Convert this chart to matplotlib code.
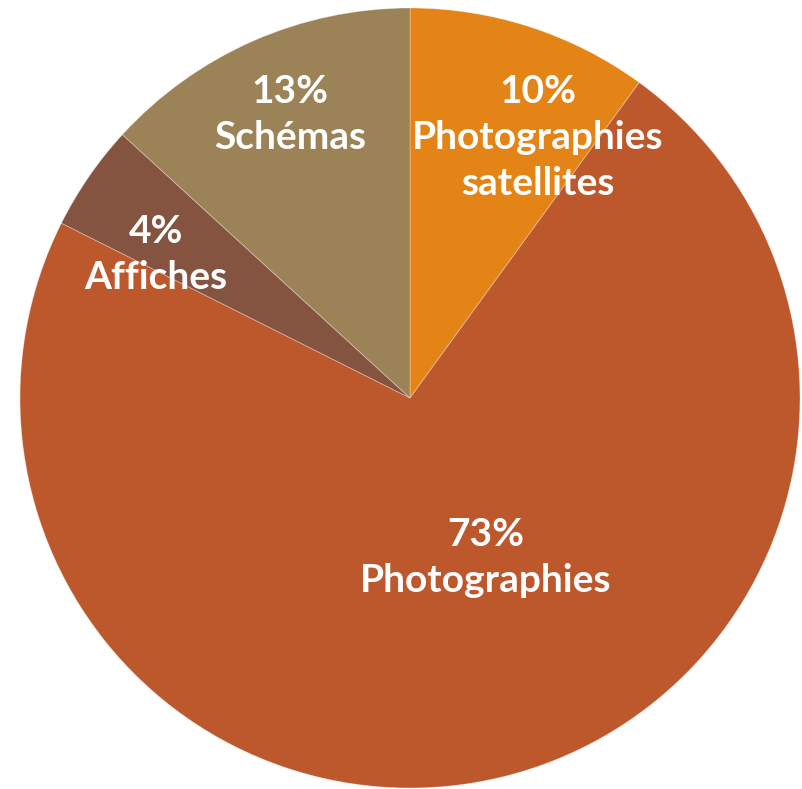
import matplotlib
matplotlib.use("Agg")
import matplotlib.pyplot as plt

# Parts des types d'images (sens horaire depuis le haut)
categories = ["Photographies\nsatellites", "Photographies", "Affiches", "Schémas"]
shares = [10.0, 72.4, 4.4, 13.2]          # wedge sizes
pct_labels = ["10%", "73%", "4%", "13%"]  # printed labels
colors = ["#E48416", "#BD582D", "#845440", "#9C8357"]

# label placement (unit radius), tuned to match the original layout
label_xy = [(0.328, 0.669), (0.195, -0.41), (-0.652, 0.369), (-0.308, 0.726)]

fig = plt.figure(figsize=(8.03, 7.89), dpi=100)
ax = fig.add_axes([20 / 803, 1 / 789, 780 / 803, 780 / 789])

wedges, _ = ax.pie(shares, colors=colors, startangle=90, counterclock=False,
                   radius=1.0,
                   wedgeprops=dict(edgecolor=(1, 1, 1, 0.35), linewidth=0.6))

for cat, pct, (x, y) in zip(categories, pct_labels, label_xy):
    ax.text(x, y, f"{pct}\n{cat}", ha="center", va="center",
            color="white", fontsize=28, fontweight="bold", family="Lato",
            linespacing=1.38)

ax.set_xlim(-1, 1)
ax.set_ylim(-1, 1)
ax.set_aspect("equal")
ax.axis("off")

fig.savefig("out.png", dpi=100)
